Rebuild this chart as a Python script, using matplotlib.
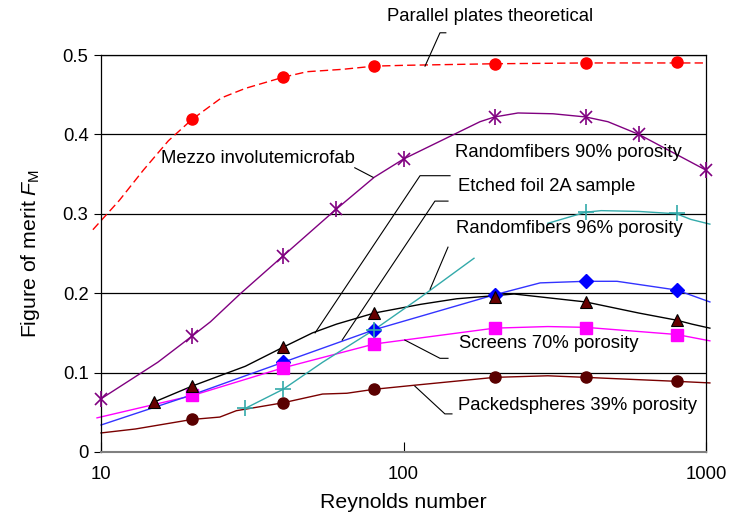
import matplotlib
matplotlib.use('Agg')
import matplotlib.pyplot as plt
from matplotlib.ticker import FixedLocator, FixedFormatter, NullLocator

plt.rcParams['font.family'] = ['Liberation Sans', 'DejaVu Sans']
plt.rcParams['mathtext.fontset'] = 'custom'
plt.rcParams['mathtext.rm'] = 'Liberation Sans'
plt.rcParams['mathtext.it'] = 'Liberation Sans:italic'

# Dados (Reynolds, figura de mérito)
plates_re = [20, 40, 80, 200, 400, 800]
plates_fm = [0.419, 0.472, 0.486, 0.489, 0.490, 0.491]
plates_line_re = [9.4, 11.5, 13.8, 16.7, 20, 25, 30, 40, 48, 63, 80, 100, 200, 400, 1000]
plates_line_fm = [0.280, 0.317, 0.355, 0.392, 0.419, 0.446, 0.458, 0.472, 0.479, 0.482, 0.486,
                  0.487, 0.489, 0.490, 0.490]

mezzo_re = [10, 20, 40, 60, 100, 200, 400, 600, 1000]
mezzo_fm = [0.067, 0.146, 0.247, 0.306, 0.369, 0.422, 0.422, 0.400, 0.355]
mezzo_line_re = [10, 15.4, 20, 23, 29, 40, 53, 60, 80, 100, 179, 200, 239, 312, 400, 474, 600, 1000]
mezzo_line_fm = [0.067, 0.113, 0.146, 0.164, 0.200, 0.247, 0.288, 0.306, 0.346, 0.369, 0.416,
                 0.422, 0.427, 0.426, 0.422, 0.416, 0.400, 0.355]

fib90_re = [40, 80, 200, 400, 800]
fib90_fm = [0.113, 0.154, 0.198, 0.215, 0.204]
fib90_line_re = [10, 20, 40, 80, 114, 200, 283, 400, 508, 800, 1030]
fib90_line_fm = [0.034, 0.072, 0.113, 0.154, 0.171, 0.198, 0.213, 0.215, 0.215, 0.204, 0.189]

foil_re = [15, 20, 40, 80, 200, 400, 800]
foil_fm = [0.063, 0.083, 0.132, 0.175, 0.195, 0.189, 0.166]
foil_line_re = [15, 20, 30, 40, 50, 60, 80, 114, 150, 232, 400, 600, 800, 900, 1030]
foil_line_fm = [0.063, 0.083, 0.108, 0.132, 0.150, 0.161, 0.175, 0.186, 0.193, 0.199, 0.189,
                0.175, 0.166, 0.161, 0.156]

fib96_re = [30, 40, 80, 400, 800]
fib96_fm = [0.055, 0.079, 0.154, 0.302, 0.301]
fib96_line1_re = [30, 40, 54, 80, 114, 171]
fib96_line1_fm = [0.055, 0.079, 0.113, 0.154, 0.195, 0.244]
fib96_line2_re = [300, 400, 450, 600, 800, 890, 1030]
fib96_line2_fm = [0.288, 0.302, 0.304, 0.303, 0.300, 0.293, 0.287]

screens_re = [20, 40, 80, 200, 400, 800]
screens_fm = [0.072, 0.106, 0.136, 0.156, 0.156, 0.147]
screens_line_re = [9.7, 20, 40, 80, 200, 300, 400, 800, 1030]
screens_line_fm = [0.043, 0.071, 0.106, 0.136, 0.156, 0.158, 0.157, 0.148, 0.140]

spheres_re = [20, 40, 80, 200, 400, 800]
spheres_fm = [0.041, 0.062, 0.079, 0.094, 0.094, 0.090]
spheres_line_re = [10, 13, 20, 24.7, 28, 40, 54, 65, 80, 108, 200, 300, 400, 800, 1030]
spheres_line_fm = [0.024, 0.029, 0.041, 0.044, 0.052, 0.062, 0.073, 0.074, 0.079, 0.084,
                   0.094, 0.096, 0.094, 0.089, 0.087]

x_ticks = [10, 100, 1000]
x_labels = ['10', '100', '1000']
y_ticks = [0, 0.1, 0.2, 0.3, 0.4, 0.5]
y_labels = ['0', '0.1', '0.2', '0.3', '0.4', '0.5']

fig = plt.figure(figsize=(7.31, 5.22), dpi=100)
ax = fig.add_axes([0.1382, 0.1341, 0.8276, 0.7605])
ax.set_xscale('log')
ax.set_xlim(10, 1000)
ax.set_ylim(0, 0.5)

for y in y_ticks[1:]:
    ax.axhline(y, color='black', lw=0.9, zorder=1)

# Linhas
ax.plot(spheres_line_re, spheres_line_fm, color='#7a0000', lw=1, clip_on=False, zorder=2)
ax.plot(screens_line_re, screens_line_fm, color='#ff00ff', lw=1, clip_on=False, zorder=2)
ax.plot(fib90_line_re, fib90_line_fm, color='#3333ff', lw=1, clip_on=False, zorder=2)
ax.plot(foil_line_re, foil_line_fm, color='black', lw=1, clip_on=False, zorder=2)
ax.plot(fib96_line1_re, fib96_line1_fm, color='#33aaaa', lw=1, clip_on=False, zorder=2)
ax.plot(fib96_line2_re, fib96_line2_fm, color='#33aaaa', lw=1, clip_on=False, zorder=2)
ax.plot(mezzo_line_re, mezzo_line_fm, color='#800080', lw=1, clip_on=False, zorder=2)
ax.plot(plates_line_re, plates_line_fm, color='#ff0000', lw=1, dashes=(6, 3), clip_on=False, zorder=2)

# Marcadores
ax.plot(spheres_re, spheres_fm, 'o', ms=8, mfc='#5a0000', mec='#5a0000', zorder=3)
ax.plot(fib90_re, fib90_fm, 'D', ms=7, mfc='#0000ff', mec='#0000ff', zorder=3)
ax.plot(screens_re, screens_fm, 's', ms=8, mfc='#ff00ff', mec='#ff00ff', zorder=4)
ax.plot(foil_re, foil_fm, '^', ms=8, mfc='#660000', mec='black', mew=0.8, zorder=4)
ax.plot(fib96_re, fib96_fm, '+', ms=11, color='#33aaaa', mew=1.2, zorder=5)
ax.plot(mezzo_re, mezzo_fm, 'x', ms=8, color='#800080', mew=1.2, clip_on=False, zorder=5)
ax.plot(mezzo_re, mezzo_fm, '|', ms=11, color='#800080', mew=1.2, clip_on=False, zorder=5)
ax.plot(plates_re, plates_fm, 'o', ms=8, mfc='#ff0000', mec='#ff0000', zorder=5)

# Rótulos e linhas de chamada
fs = 13.3
ax.text(88, 0.548, 'Parallel plates theoretical', fontsize=fs, va='center')
ax.plot([117.8, 132, 138], [0.486, 0.528, 0.528], color='black', lw=0.8, clip_on=False, zorder=6)

ax.text(15.8, 0.370, 'Mezzo involutemicrofab', fontsize=fs, va='center')
ax.plot([69, 79.3], [0.358, 0.346], color='black', lw=0.8, zorder=6)

ax.text(148, 0.377, 'Randomfibers 90% porosity', fontsize=fs, va='center')
ax.text(151, 0.334, 'Etched foil 2A sample', fontsize=fs, va='center')
ax.plot([142.5, 113.4, 51], [0.348, 0.348, 0.150], color='black', lw=0.8, zorder=6)
ax.plot([140.3, 127, 62.7], [0.316, 0.316, 0.141], color='black', lw=0.8, zorder=6)

ax.text(149, 0.282, 'Randomfibers 96% porosity', fontsize=fs, va='center')
ax.plot([140.3, 122.4], [0.258, 0.205], color='black', lw=0.8, zorder=6)

ax.text(152.6, 0.137, 'Screens 70% porosity', fontsize=fs, va='center')
ax.plot([140.3, 132, 101], [0.118, 0.118, 0.141], color='black', lw=0.8, zorder=6)

ax.text(151, 0.059, 'Packedspheres 39% porosity', fontsize=fs, va='center')
ax.plot([144.6, 137, 109], [0.048, 0.048, 0.083], color='black', lw=0.8, zorder=6)

# Eixos
ax.xaxis.set_major_locator(FixedLocator(x_ticks))
ax.xaxis.set_major_formatter(FixedFormatter(x_labels))
ax.xaxis.set_minor_locator(NullLocator())
ax.yaxis.set_major_locator(FixedLocator(y_ticks))
ax.yaxis.set_major_formatter(FixedFormatter(y_labels))
ax.tick_params(axis='x', direction='in', length=7, labelsize=fs, pad=10)
ax.tick_params(axis='y', direction='out', length=5, labelsize=fs, pad=4)
ax.spines['bottom'].set_color('#808080')
ax.spines['bottom'].set_linewidth(1.5)
for s in ['left', 'right', 'top']:
    ax.spines[s].set_linewidth(0.9)

ax.set_xlabel('Reynolds number', fontsize=15.3, labelpad=7)
ax.set_ylabel('Figure of merit $F_\\mathrm{M}$', fontsize=15.3, labelpad=15)

fig.savefig('out.png', dpi=100)
